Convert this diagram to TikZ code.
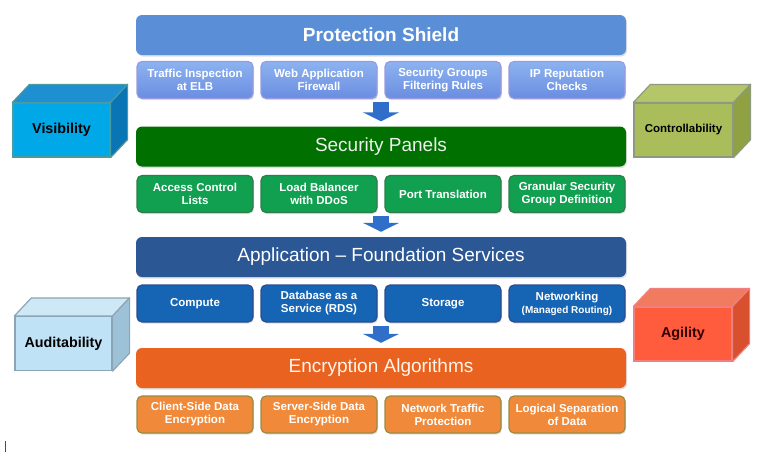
\documentclass[tikz,border=0pt]{standalone}
\usepackage{fontspec}
\setmainfont{Liberation Sans}
\usetikzlibrary{positioning,calc,arrows.meta,shadows}

\definecolor{shieldbar}{HTML}{5A8FD8}
\definecolor{shieldtop}{HTML}{8DB3F0}
\definecolor{shieldbot}{HTML}{6A8EE0}
\definecolor{shieldedge}{HTML}{9A9AE0}
\definecolor{panelbar}{HTML}{007000}
\definecolor{panelsub}{HTML}{10A050}
\definecolor{paneledge}{HTML}{2E7D4A}
\definecolor{appbar}{HTML}{2B5795}
\definecolor{appsub}{HTML}{1565B4}
\definecolor{appedge}{HTML}{2A4E90}
\definecolor{encbar}{HTML}{EA6220}
\definecolor{encsub}{HTML}{F08A3A}
\definecolor{encedge}{HTML}{9A8A40}
\definecolor{flowblue}{HTML}{2F6FC9}

\definecolor{visfront}{HTML}{00A8E8}
\definecolor{vistop}{HTML}{1E8FD0}
\definecolor{visside}{HTML}{0A75B5}
\definecolor{visedge}{HTML}{4A9BA0}
\definecolor{ctlfront}{HTML}{A9BD5A}
\definecolor{ctltop}{HTML}{B5C569}
\definecolor{ctlside}{HTML}{8FA142}
\definecolor{ctledge}{HTML}{8E9A80}
\definecolor{audfront}{HTML}{BFE2F6}
\definecolor{audtop}{HTML}{CFE8F6}
\definecolor{audside}{HTML}{9DC2D8}
\definecolor{audedge}{HTML}{8BA5B5}
\definecolor{agifront}{HTML}{FF5B3D}
\definecolor{agitop}{HTML}{F07B5E}
\definecolor{agiside}{HTML}{D9502E}
\definecolor{agiedge}{HTML}{F08080}

\tikzset{
  bar/.style={rounded corners=6pt, minimum width=490pt, minimum height=40pt,
    text=white, font=\fontsize{19}{22}\selectfont,
    drop shadow={opacity=0.25, shadow xshift=1pt, shadow yshift=-1.5pt}},
  sub/.style={rounded corners=5pt, minimum width=116pt, minimum height=37pt,
    align=center, text=white, line width=1.2pt,
    font=\fontsize{11.5}{13}\selectfont\bfseries,
    drop shadow={opacity=0.25, shadow xshift=1pt, shadow yshift=-1.5pt}},
  flow/.style={draw=flowblue, line width=16pt, -{Triangle[length=9pt,width=36pt]},
    shorten <=3pt, shorten >=5pt},
  cubefront/.style={minimum height=54pt, line width=1.2pt,
    font=\fontsize{14.3}{16}\selectfont\bfseries},
  cubeface/.style={line width=1.2pt, line join=round}
}

\begin{document}
\begin{tikzpicture}[x=1pt, y=-1pt]
  \useasboundingbox (0,0) rectangle (768,455);

  % protection shield
  \node[bar, fill=shieldbar, font=\fontsize{19}{22}\selectfont\bfseries] (ps) at (381,35) {Protection Shield};
     \node[sub, draw=shieldedge, top color=shieldtop, bottom color=shieldbot] (psA) at (195,80) {Traffic Inspection\\at ELB};
     \node[sub, draw=shieldedge, top color=shieldtop, bottom color=shieldbot] (psB) at (319,80) {Web Application\\Firewall};
     \node[sub, draw=shieldedge, top color=shieldtop, bottom color=shieldbot] (psC) at (443,80) {Security Groups\\Filtering Rules};
     \node[sub, draw=shieldedge, top color=shieldtop, bottom color=shieldbot] (psD) at (567,80) {IP Reputation\\Checks};

  % security panels
  \node[bar, fill=panelbar, text=white!94!black] (sp) at (381,146.5) {Security Panels};
     \node[sub, draw=paneledge, fill=panelsub] (spA) at (195,194) {Access Control\\Lists};
     \node[sub, draw=paneledge, fill=panelsub] (spB) at (319,194) {Load Balancer\\with DDoS};
     \node[sub, draw=paneledge, fill=panelsub] (spC) at (443,194) {Port Translation};
     \node[sub, draw=paneledge, fill=panelsub] (spD) at (567,194) {Granular Security\\Group Definition};

  % application foundation
  \node[bar, fill=appbar] (af) at (381,257) {Application -- Foundation Services};
     \node[sub, draw=appedge, fill=appsub] (afA) at (195,303.5) {Compute};
     \node[sub, draw=appedge, fill=appsub] (afB) at (319,303.5) {Database as a\\Service (RDS)};
     \node[sub, draw=appedge, fill=appsub] (afC) at (443,303.5) {Storage};
     \node[sub, draw=appedge, fill=appsub] (afD) at (567,303.5) {Networking\\{\fontsize{10}{12}\selectfont(Managed Routing)}};

  % encryption
  \node[bar, fill=encbar, text=white!92!orange] (ea) at (381,368) {Encryption Algorithms};
     \node[sub, draw=encedge, fill=encsub] (eaA) at (195,414.5) {Client-Side Data\\Encryption};
     \node[sub, draw=encedge, fill=encsub] (eaB) at (319,414.5) {Server-Side Data\\Encryption};
     \node[sub, draw=encedge, fill=encsub] (eaC) at (443,414.5) {Network Traffic\\Protection};
     \node[sub, draw=encedge, fill=encsub] (eaD) at (567,414.5) {Logical Separation\\of Data};

  % arrows between layers
  \draw[flow] (ps.center |- psB.south) -- (sp.north);
  \draw[flow] (sp.center |- spB.south) -- (af.north);
  \draw[flow] (af.center |- afB.south) -- (ea.north);

  % cubes
  \node[cubefront, minimum width=97pt, fill=visfront, draw=visedge] (vis) at (61.5,130) {Visibility};
     \filldraw[cubeface, fill=vistop, draw=visedge] (vis.north west) -- ($(vis.north west)+(17,-18)$) -- ($(vis.north east)+(17,-18)$) -- (vis.north east) -- cycle;
     \filldraw[cubeface, fill=visside, draw=visedge] (vis.north east) -- ($(vis.north east)+(17,-18)$) -- ($(vis.south east)+(17,-18)$) -- (vis.south east) -- cycle;
  \node[cubefront, minimum width=99pt, fill=ctlfront, draw=ctledge, font=\fontsize{11.5}{13}\selectfont\bfseries] (ctl) at (683.5,130) {Controllability};
     \filldraw[cubeface, fill=ctltop, draw=ctledge] (ctl.north west) -- ($(ctl.north west)+(17,-18)$) -- ($(ctl.north east)+(17,-18)$) -- (ctl.north east) -- cycle;
     \filldraw[cubeface, fill=ctlside, draw=ctledge] (ctl.north east) -- ($(ctl.north east)+(17,-18)$) -- ($(ctl.south east)+(17,-18)$) -- (ctl.south east) -- cycle;
  \node[cubefront, minimum width=97pt, fill=audfront, draw=audedge] (aud) at (63.5,343.5) {Auditability};
     \filldraw[cubeface, fill=audtop, draw=audedge] (aud.north west) -- ($(aud.north west)+(17,-18)$) -- ($(aud.north east)+(17,-18)$) -- (aud.north east) -- cycle;
     \filldraw[cubeface, fill=audside, draw=audedge] (aud.north east) -- ($(aud.north east)+(17,-18)$) -- ($(aud.south east)+(17,-18)$) -- (aud.south east) -- cycle;
  \node[cubefront, minimum width=98pt, fill=agifront, draw=agiedge, text=black!80!red] (agi) at (683,334) {Agility};
     \filldraw[cubeface, fill=agitop, draw=agiedge] (agi.north west) -- ($(agi.north west)+(17,-18)$) -- ($(agi.north east)+(17,-18)$) -- (agi.north east) -- cycle;
     \filldraw[cubeface, fill=agiside, draw=agiedge] (agi.north east) -- ($(agi.north east)+(17,-18)$) -- ($(agi.south east)+(17,-18)$) -- (agi.south east) -- cycle;

  % cursor mark
  \draw[line width=1pt, black!70] (5,441) -- (5,452);
\end{tikzpicture}
\end{document}
